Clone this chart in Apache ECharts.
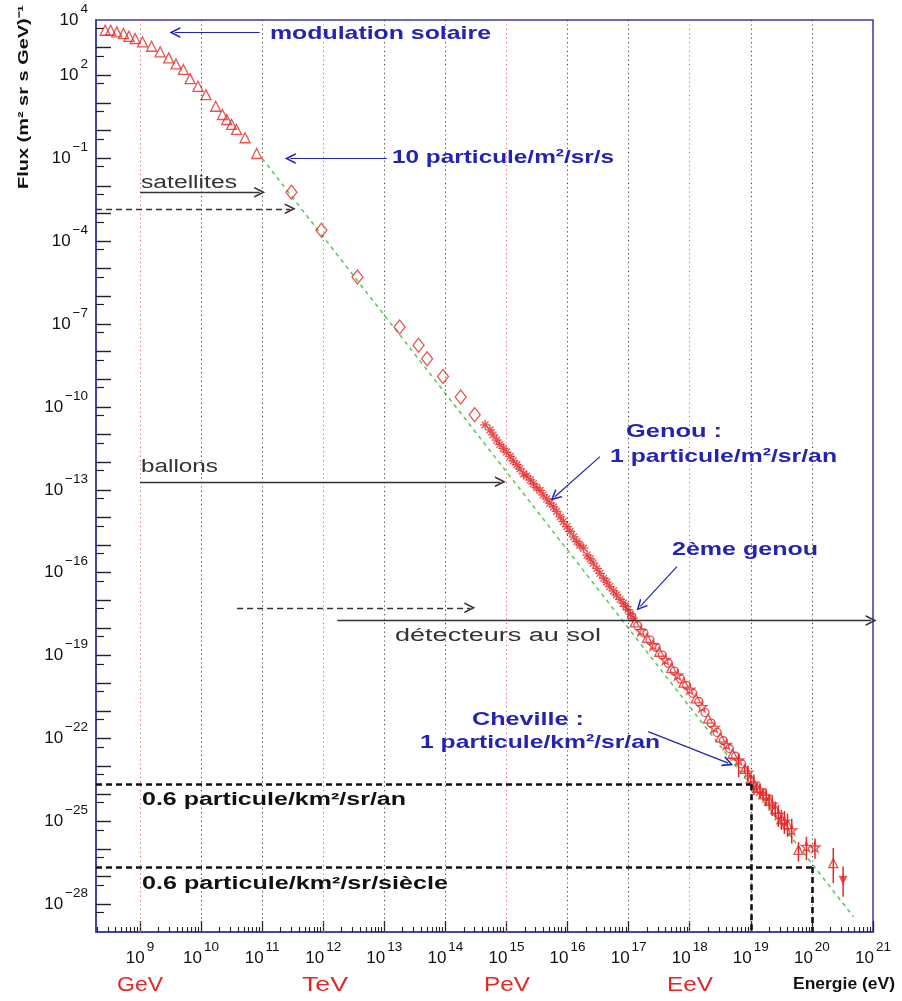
<!DOCTYPE html>
<html><head><meta charset="utf-8">
<script src="https://cdn.jsdelivr.net/npm/echarts@6.0.0/dist/echarts.min.js"></script>
<style>html,body{margin:0;padding:0;background:#fff}#c{width:902px;height:1001px}</style>
</head><body><div id="c"></div>
<script>
// ---- values: log10(E / eV) and log10(flux / (m^2 sr s GeV)^-1) ----
const triE  = [8.43, 8.52, 8.62, 8.73, 8.82, 8.92, 9.04, 9.19, 9.33, 9.47, 9.59, 9.71, 9.82, 9.95, 10.08, 10.24, 10.35, 10.42, 10.50, 10.58, 10.72, 10.91];
const triF  = [3.63, 3.63, 3.57, 3.51, 3.41, 3.33, 3.21, 3.05, 2.85, 2.63, 2.41, 2.21, 1.88, 1.60, 1.30, 0.88, 0.58, 0.40, 0.22, 0.04, -0.26, -0.83];

const diaE  = [11.48, 11.97, 12.56, 13.25, 13.56, 13.70, 13.96, 14.25, 14.48];
const diaF  = [-2.23, -3.61, -5.30, -7.11, -7.77, -8.26, -8.90, -9.64, -10.28];

const starE = [14.65, 14.73, 14.78, 14.84, 14.89, 14.95, 15.00, 15.06, 15.11, 15.17, 15.22, 15.28, 15.33, 15.39, 15.44, 15.49, 15.55, 15.60, 15.66, 15.71, 15.77, 15.82, 15.88, 15.93, 15.99, 16.04, 16.10, 16.15, 16.20, 16.26, 16.32, 16.37, 16.42, 16.48, 16.53, 16.59, 16.64, 16.69, 16.75, 16.80, 16.86, 16.91, 16.95, 16.99, 17.03, 17.07];
const starF = [-10.65, -10.83, -11.01, -11.20, -11.36, -11.50, -11.64, -11.79, -11.95, -12.09, -12.24, -12.42, -12.50, -12.64, -12.78, -12.92, -13.02, -13.18, -13.33, -13.48, -13.62, -13.78, -13.98, -14.15, -14.33, -14.50, -14.70, -14.87, -15.00, -15.11, -15.36, -15.50, -15.65, -15.84, -16.02, -16.20, -16.34, -16.50, -16.66, -16.80, -16.96, -17.10, -17.22, -17.34, -17.50, -17.64];

const circE = [17.05, 17.15, 17.25, 17.35, 17.45, 17.55, 17.65, 17.75, 17.85, 17.95, 18.05, 18.15, 18.25, 18.35, 18.45, 18.55, 18.65, 18.75, 18.85];
const circF = [-17.60, -17.92, -18.18, -18.44, -18.70, -18.98, -19.28, -19.56, -19.84, -20.08, -20.36, -20.66, -21.06, -21.44, -21.78, -22.08, -22.36, -22.64, -22.92];

const otriE  = [17.1, 17.3, 17.5, 17.7, 17.9, 18.1, 18.3, 18.5, 18.7, 18.9, 19.0, 19.1, 19.2, 19.3, 19.4, 19.5, 19.6, 19.78, 20.35];
const otriF  = [-17.80, -18.36, -18.86, -19.44, -19.98, -20.55, -21.28, -21.96, -22.55, -23.10, -23.45, -23.78, -24.02, -24.25, -24.55, -24.92, -25.10, -26.03, -26.51];
const otriLo = [null, null, null, null, null, null, null, null, null, -23.22, -23.60, -23.96, -24.24, -24.52, -24.85, -25.30, -25.55, -26.45, -27.23];
const otriHi = [null, null, null, null, null, null, null, null, null, -22.98, -23.30, -23.60, -23.80, -24.00, -24.28, -24.58, -24.72, -25.75, -25.96];

const ostarE  = [17.2, 17.4, 17.6, 17.8, 18.0, 18.2, 18.4, 18.6, 18.8, 18.95, 19.05, 19.15, 19.25, 19.35, 19.45, 19.55, 19.67, 19.91, 20.05];
const ostarF  = [-18.10, -18.62, -19.14, -19.70, -20.22, -20.85, -21.60, -22.22, -22.78, -23.22, -23.62, -23.86, -24.10, -24.38, -24.75, -25.00, -25.31, -25.91, -25.93];
const ostarLo = [null, null, null, null, null, null, null, null, -23.40, -23.55, -24.05, -24.15, -24.45, -24.80, -25.20, -25.45, -25.80, -26.40, -26.35];
const ostarHi = [null, null, null, null, null, null, null, null, -22.55, -22.98, -23.30, -23.62, -23.82, -24.05, -24.40, -24.62, -24.90, -25.55, -25.62];

const downE  = [20.51];
const downF  = [-27.13];
const downLo = [-27.72];
const downHi = [-26.63];

const fitE = [11.0, 20.68];
const fitF = [-1.01, -28.45];

const limitAnE = 19.0,     limitAnF = -23.65;
const limitSiecleE = 20.0, limitSiecleF = -26.65;

const xLabelExps  = [9, 10, 11, 12, 13, 14, 15, 16, 17, 18, 19, 20, 21];
const yLabelExps  = [4, 2, -1, -4, -7, -10, -13, -16, -19, -22, -25, -28];
const gridDecades = [9, 10, 11, 12, 13, 14, 15, 16, 17, 18, 19, 20];
const redDecades  = [9, 12, 15, 18];
const unitNames   = ['GeV', 'TeV', 'PeV', 'EeV'];

// ---- axis ranges ----
const xMin = 8.28, xMax = 21, yMin = -29, yMax = 4;

// ---- styles ----
const FONT = '"Liberation Sans", Arial, Helvetica, sans-serif';
const RED = '#e32727', BLUE = '#2424b4', FRAME = '#3a3aa0', GRAY = '#333333';
const ARROW = 'path://M0,10 L5,0 L10,10 L8.4,10 L5,3.2 L1.6,10 Z';
const ASTER = 'path://M5,0L5,10M0,5L10,5M1.6,1.6L8.4,8.4M8.4,1.6L1.6,8.4';
const OSTAR = 'path://M50,0 L61,35 L98,35 L68,57 L79,91 L50,70 L21,91 L32,57 L2,35 L39,35 Z';

const pts = (E, F) => E.map((e, i) => [e, F[i]]);
const errs = (E, lo, hi) => E.map((e, i) => [e, lo[i], hi[i]]).filter(d => d[1] != null);
const expTxt = v => (v < 0 ? '\u2212' + Math.abs(v) : String(v));
const lbl = v => '{b|10}{s|' + expTxt(Math.round(v)) + '}';
const rich = {
  b: {fontSize: 17, fontFamily: FONT, color: '#111', lineHeight: 36, verticalAlign: 'middle'},
  s: {fontSize: 13.5, fontFamily: FONT, color: '#111', verticalAlign: 'top', padding: [0, 0, 0, 2]}
};

const xMinor = [];
for (let n = 8; n <= 20; n++) for (let k = 2; k <= 9; k++) {
  const v = n + Math.log10(k); if (v > xMin && v < xMax) xMinor.push(v);
}
const yMajor = [], yMinor = [];
for (let n = yMin + 1; n < yMax; n++) yMajor.push(n);
for (let n = yMin + 1; n <= yMax; n++) yMinor.push(n + Math.log10(0.5));

function errSeries(data) {
  return {
    type: 'custom', silent: true, z: 3, data, encode: {x: 0, y: [1, 2]},
    renderItem: (params, api) => {
      const a = api.coord([api.value(0), api.value(1)]);
      const b = api.coord([api.value(0), api.value(2)]);
      return {type: 'line', shape: {x1: a[0], y1: a[1], x2: b[0], y2: b[1]}, style: {stroke: RED, lineWidth: 1.5}};
    }
  };
}
function scatter(data, symbol, size, filled) {
  return {
    type: 'scatter', data, symbol, symbolSize: size, z: 4, silent: true,
    itemStyle: {color: filled ? RED : 'rgba(255,255,255,0)', borderColor: RED, borderWidth: 1.3}
  };
}
function arrowSeries(pairs, color, type, width, withHead) {
  return {
    type: 'line', data: [], silent: true, z: 6,
    markLine: {
      silent: true, animation: false, symbol: ['none', withHead ? ARROW : 'none'], symbolSize: 11,
      label: {show: false}, lineStyle: {color, type, width},
      data: pairs.map(p => [{coord: p[0]}, {coord: p[1]}])
    }
  };
}

// annotation arrows in data space (log10 E, log10 flux)
const blueArrows = [
  [[10.96, 3.55], [9.57, 3.55]],
  [[13.04, -1.01], [11.46, -1.01]],
  [[16.53, -11.80], [15.79, -13.25]],
  [[17.79, -15.78], [17.19, -17.22]],
  [[17.32, -21.75], [18.63, -22.89]]
];
const solidArrows = [
  [[9.0, -2.23], [10.96, -2.23]],
  [[9.0, -12.71], [14.9, -12.71]],
  [[12.23, -17.73], [20.97, -17.73]]
];
const dashedArrows = [
  [[xMin, -2.83], [11.46, -2.83]],
  [[10.59, -17.27], [14.40, -17.27]]
];
const limitLines = [
  [[xMin, limitAnF], [limitAnE, limitAnF]],
  [[limitAnE, limitAnF], [limitAnE, yMin]],
  [[xMin, limitSiecleF], [limitSiecleE, limitSiecleF]],
  [[limitSiecleE, limitSiecleF], [limitSiecleE, yMin]]
];

// ---- text annotations (layout in pixels) ----
const mctx = document.createElement('canvas').getContext('2d');
function txt(text, x, y, width, size, weight, color, extra) {
  mctx.font = weight + ' ' + size + 'px ' + FONT;
  const w = mctx.measureText(text).width;
  return Object.assign({
    type: 'text', x, y, scaleX: width / w, z: 100, silent: true,
    style: {text, fontSize: size, fontWeight: weight, fontFamily: FONT, fill: color, align: 'left', verticalAlign: 'middle'}
  }, extra || {});
}
const unitX = [117, 302, 484, 667];
const graphics = [
  txt('modulation solaire', 270, 34, 221, 19, 'bold', BLUE),
  txt('10 particule/m\u00b2/sr/s', 392, 158, 222, 19, 'bold', BLUE),
  txt('satellites', 141, 183, 96, 18, 'normal', GRAY),
  txt('ballons', 141, 467, 77, 18, 'normal', GRAY),
  txt('d\u00e9tecteurs au sol', 395, 636, 206, 18, 'normal', GRAY),
  txt('Genou :', 626, 432, 96, 19, 'bold', BLUE),
  txt('1 particule/m\u00b2/sr/an', 610, 457, 227, 19, 'bold', BLUE),
  txt('2\u00e8me genou', 672, 550, 146, 19, 'bold', BLUE),
  txt('Cheville :', 472, 720, 112, 19, 'bold', BLUE),
  txt('1 particule/km\u00b2/sr/an', 420, 743, 240, 19, 'bold', BLUE),
  txt('0.6 particule/km\u00b2/sr/an', 142, 800, 264, 18, 'bold', '#111'),
  txt('0.6 particule/km\u00b2/sr/si\u00e8cle', 142, 884, 306, 18, 'bold', '#111'),
  txt('Energie (eV)', 793, 984, 102, 17, 'bold', '#111'),
  txt('Flux (m\u00b2 sr s GeV)\u207b\u00b9', 24, 97, 184, 15, 'bold', '#111',
      {rotation: Math.PI / 2, style: {text: 'Flux (m\u00b2 sr s GeV)\u207b\u00b9', fontSize: 15, fontWeight: 'bold', fontFamily: FONT, fill: '#111', align: 'center', verticalAlign: 'middle'}})
].concat(unitNames.map((u, i) => txt(u, unitX[i], 985, 46, 20, 'normal', RED)));

const option = {
  animation: false,
  backgroundColor: '#fff',
  grid: {left: 96, right: 29, top: 20, bottom: 69, show: true, borderColor: FRAME, borderWidth: 1.5, backgroundColor: 'rgba(0,0,0,0)', outerBoundsMode: 'none'},
  xAxis: [
    {type: 'value', min: xMin, max: xMax, position: 'bottom',
     axisLine: {onZero: false, lineStyle: {color: FRAME, width: 1.5}},
     axisTick: {inside: true, length: 11, customValues: xLabelExps, lineStyle: {color: '#222', width: 1.3}},
     axisLabel: {customValues: xLabelExps, formatter: lbl, rich, margin: 8},
     splitLine: {show: false}},
    {type: 'value', min: xMin, max: xMax, position: 'bottom',
     axisLine: {show: false, onZero: false},
     axisTick: {inside: true, length: 5, customValues: xMinor, lineStyle: {color: '#222', width: 1.1}},
     axisLabel: {show: false}, splitLine: {show: false}}
  ],
  yAxis: [
    {type: 'value', min: yMin, max: yMax, position: 'left',
     axisLine: {onZero: false, lineStyle: {color: FRAME, width: 1.5}},
     axisTick: {inside: true, length: 15, customValues: yMajor, lineStyle: {color: '#222', width: 1.4}},
     axisLabel: {customValues: yLabelExps, formatter: lbl, rich, margin: 8},
     splitLine: {show: false}},
    {type: 'value', min: yMin, max: yMax, position: 'left',
     axisLine: {show: false, onZero: false},
     axisTick: {inside: true, length: 8, customValues: yMinor, lineStyle: {color: '#222', width: 1.2}},
     axisLabel: {show: false}, splitLine: {show: false}}
  ],
  graphic: graphics,
  series: [
    {type: 'line', data: pts(fitE, fitF), symbol: 'none', silent: true, z: 2,
     lineStyle: {color: '#5ccc5c', type: [4, 4], width: 1.6},
     markLine: {silent: true, animation: false, symbol: ['none', 'none'], label: {show: false},
       data: gridDecades.map(d => ({xAxis: d, lineStyle: {color: redDecades.includes(d) ? '#e86a6a' : '#444', type: [1.2, 3.2], width: 1.1}}))}},
    scatter(pts(triE, triF), 'triangle', 10, false),
    scatter(pts(diaE, diaF), 'diamond', [11, 14], false),
    scatter(pts(starE, starF), ASTER, 10, false),
    errSeries(errs(otriE, otriLo, otriHi)),
    errSeries(errs(ostarE, ostarLo, ostarHi)),
    errSeries(errs(downE, downLo, downHi)),
    scatter(pts(circE, circF), 'circle', 8, false),
    scatter(pts(otriE, otriF), 'triangle', 9, false),
    scatter(pts(ostarE, ostarF), OSTAR, 10, false),
    {type: 'scatter', data: pts(downE, downF), symbol: 'triangle', symbolRotate: 180, symbolSize: 9, z: 4, silent: true, itemStyle: {color: RED}},
    arrowSeries(limitLines, '#111', [6, 4], 2.6, false),
    arrowSeries(blueArrows, BLUE, 'solid', 1.2, true),
    arrowSeries(solidArrows, GRAY, 'solid', 1.3, true),
    arrowSeries(dashedArrows, GRAY, [6, 4], 1.3, true)
  ]
};
echarts.init(document.getElementById('c')).setOption(option);
</script>
</body></html>
